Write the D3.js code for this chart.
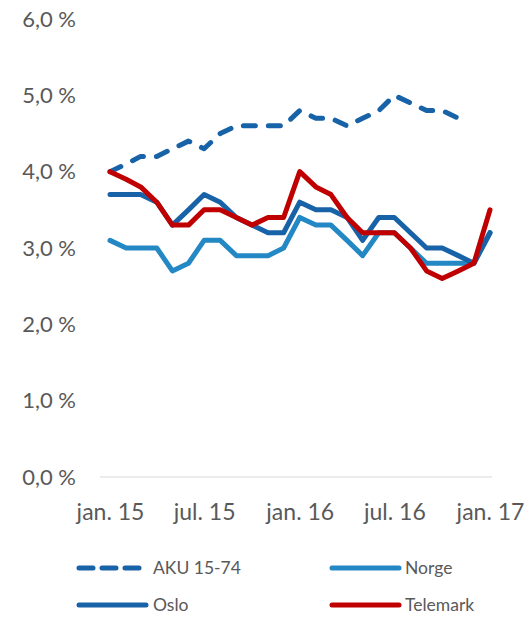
<!DOCTYPE html>
<html>
<head>
<meta charset="utf-8">
<script src="https://cdn.jsdelivr.net/npm/d3@7"></script>
<style>
  body { margin: 0; background: #fff; }
  svg text { font-family: Lato, "Open Sans", sans-serif; fill: #595959; }
</style>
</head>
<body>
<svg id="chart"></svg>
<script>
// months jan. 15 .. jan. 17
const months = d3.range(25).map(i => new Date(2015, i, 1));
const tickLabels = ["jan. 15", "jul. 15", "jan. 16", "jul. 16", "jan. 17"];
const yTicks = [0, 1, 2, 3, 4, 5, 6];

const aku = [4.0, 4.1, 4.2, 4.2, 4.3, 4.4, 4.3, 4.5, 4.6, 4.6, 4.6, 4.6,
             4.8, 4.7, 4.7, 4.6, 4.7, 4.8, 5.0, 4.9, 4.8, 4.8, 4.7, null, null];
const norge = [3.1, 3.0, 3.0, 3.0, 2.7, 2.8, 3.1, 3.1, 2.9, 2.9, 2.9, 3.0,
               3.4, 3.3, 3.3, 3.1, 2.9, 3.2, 3.2, 3.0, 2.8, 2.8, 2.8, 2.8, 3.2];
const oslo = [3.7, 3.7, 3.7, 3.6, 3.3, 3.5, 3.7, 3.6, 3.4, 3.3, 3.2, 3.2,
              3.6, 3.5, 3.5, 3.4, 3.1, 3.4, 3.4, 3.2, 3.0, 3.0, 2.9, 2.8, 3.2];
const telemark = [4.0, 3.9, 3.8, 3.6, 3.3, 3.3, 3.5, 3.5, 3.4, 3.3, 3.4, 3.4,
                  4.0, 3.8, 3.7, 3.4, 3.2, 3.2, 3.2, 3.0, 2.7, 2.6, 2.7, 2.8, 3.5];

const series = [
  { name: "AKU 15-74", values: aku, color: "#1862a8", dash: "12,13" },
  { name: "Norge", values: norge, color: "#2488c4", dash: null },
  { name: "Oslo", values: oslo, color: "#1862a8", dash: null },
  { name: "Telemark", values: telemark, color: "#c00000", dash: null }
];

const W = 529, H = 617;
const svg = d3.select("#chart").attr("width", W).attr("height", H);

const x = d3.scaleTime()
  .domain([months[0], months[24]])
  .range([110, 490]);

const y = d3.scaleLinear()
  .domain([0, 6])
  .range([477, 19]);

// y labels
svg.selectAll(".ylab")
  .data(yTicks)
  .enter().append("text")
  .attr("class", "ylab")
  .attr("x", 76)
  .attr("y", d => y(d))
  .attr("dy", "0.35em")
  .attr("text-anchor", "end")
  .attr("font-size", "22px")
  .text(d => d3.format(".1f")(d).replace(".", ",") + " %");

// baseline
svg.append("line")
  .attr("x1", 100).attr("x2", 492)
  .attr("y1", y(0)).attr("y2", y(0))
  .attr("stroke", "#d9d9d9")
  .attr("stroke-width", 1);

// x axis
const xAxis = d3.axisBottom(x)
  .tickValues([0, 6, 12, 18, 24].map(i => months[i]))
  .tickFormat((d, i) => tickLabels[i])
  .tickSize(0)
  .tickPadding(0);

const gx = svg.append("g")
  .attr("transform", `translate(0,${y(0) + 27})`)
  .call(xAxis);
gx.select(".domain").remove();
gx.selectAll("text")
  .attr("font-size", "23px")
  .attr("fill", "#595959")
  .attr("font-family", "Lato, 'Open Sans', sans-serif");

// lines
const line = d3.line()
  .defined(d => d.v != null)
  .x(d => x(d.m))
  .y(d => y(d.v));

svg.selectAll(".series")
  .data(series)
  .enter().append("path")
  .attr("class", "series")
  .attr("d", s => line(s.values.map((v, i) => ({ m: months[i], v: v }))))
  .attr("fill", "none")
  .attr("stroke", s => s.color)
  .attr("stroke-width", 5)
  .attr("stroke-linecap", "round")
  .attr("stroke-linejoin", "round")
  .attr("stroke-dasharray", s => s.dash);

// legend
const legendPos = [[77, 568], [330, 568], [77, 605], [330, 605]];
const legend = svg.selectAll(".legend")
  .data(series)
  .enter().append("g")
  .attr("class", "legend")
  .attr("transform", (d, i) => `translate(${legendPos[i][0]},${legendPos[i][1]})`);

legend.append("line")
  .attr("x1", 2).attr("x2", (d, i) => i === 0 ? 62 : 69)
  .attr("stroke", d => d.color)
  .attr("stroke-width", 5)
  .attr("stroke-linecap", "round")
  .attr("stroke-dasharray", d => d.dash ? "14,9" : null);

legend.append("text")
  .attr("x", (d, i) => i % 2 === 0 ? 76 : 75)
  .attr("dy", "0.35em")
  .attr("font-size", "17.5px")
  .text(d => d.name);
</script>
</body>
</html>
